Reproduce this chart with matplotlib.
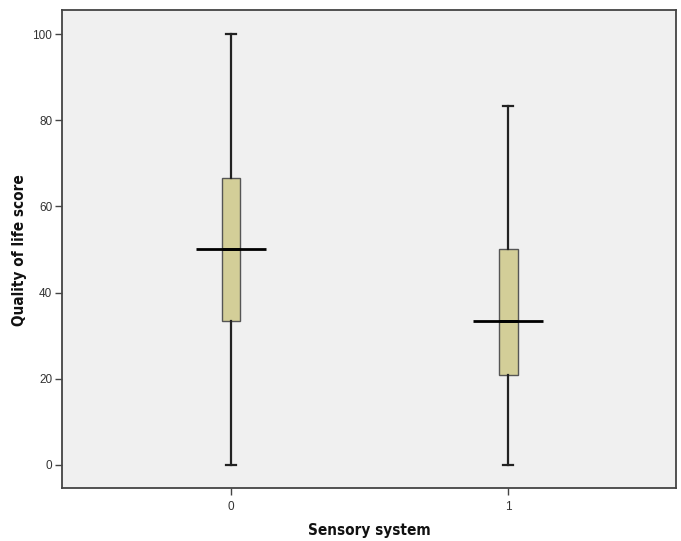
import matplotlib
matplotlib.use("Agg")
import matplotlib.pyplot as plt

# five-number summaries per group (whisker low, Q1, median, Q3, whisker high)
groups = ["0", "1"]
whisker_lo = [0.0, 0.0]
q1 = [33.33, 20.83]
median = [50.0, 33.33]
q3 = [66.67, 50.0]
whisker_hi = [100.0, 83.33]
y_ticks = [0, 20, 40, 60, 80, 100]

BOX_FILL = "#D3CE98"
BOX_EDGE = "#555555"
FRAME = "#444444"

stats = []
for i, g in enumerate(groups):
    stats.append(dict(label=g, whislo=whisker_lo[i], q1=q1[i], med=median[i],
                      q3=q3[i], whishi=whisker_hi[i], fliers=[]))

fig = plt.figure(figsize=(6.81, 5.41), dpi=100)
ax = fig.add_axes([62 / 681, 53 / 541, 614 / 681, 478 / 541])
ax.set_facecolor("#F0F0F0")

positions = list(range(len(groups)))
ax.bxp(stats, positions=positions, widths=0.068, patch_artist=True,
       showfliers=False,
       boxprops=dict(facecolor=BOX_FILL, edgecolor=BOX_EDGE, linewidth=1.0),
       whiskerprops=dict(color="#222222", linewidth=1.6),
       capprops=dict(color="#222222", linewidth=1.6),
       medianprops=dict(color="black", linewidth=2.0))

# SPSS draws the median wider than the box
for pos, m in zip(positions, median):
    ax.plot([pos - 0.125, pos + 0.125], [m, m], color="black", linewidth=2.0,
            solid_capstyle="butt", zorder=5)

ax.set_xlim(-0.61, 1.606)
ax.set_ylim(-5.34, 105.57)
ax.set_yticks(y_ticks)
ax.set_xticks(positions)
ax.set_xticklabels(groups)

for side in ["left", "right", "top", "bottom"]:
    ax.spines[side].set_color(FRAME)
    ax.spines[side].set_linewidth(1.3)

ax.tick_params(axis="both", direction="out", length=5, width=1.0,
               color=FRAME, labelsize=8.5, labelcolor="#333333", pad=2)
ax.tick_params(axis="x", pad=4)
for lbl in ax.get_xticklabels() + ax.get_yticklabels():
    lbl.set_family(["Liberation Sans", "DejaVu Sans"])

label_font = dict(family=["DejaVu Sans"], stretch="condensed",
                  fontsize=11, fontweight="bold", color="#111111")
fig.text((62 + 676) / 2 / 681, 1 - 531 / 541, "Sensory system",
         ha="center", va="center", **label_font)
fig.text(20 / 681, 1 - 250 / 541, "Quality of life score", rotation=90,
         ha="center", va="center", **label_font)

fig.savefig("out.png", dpi=100)
